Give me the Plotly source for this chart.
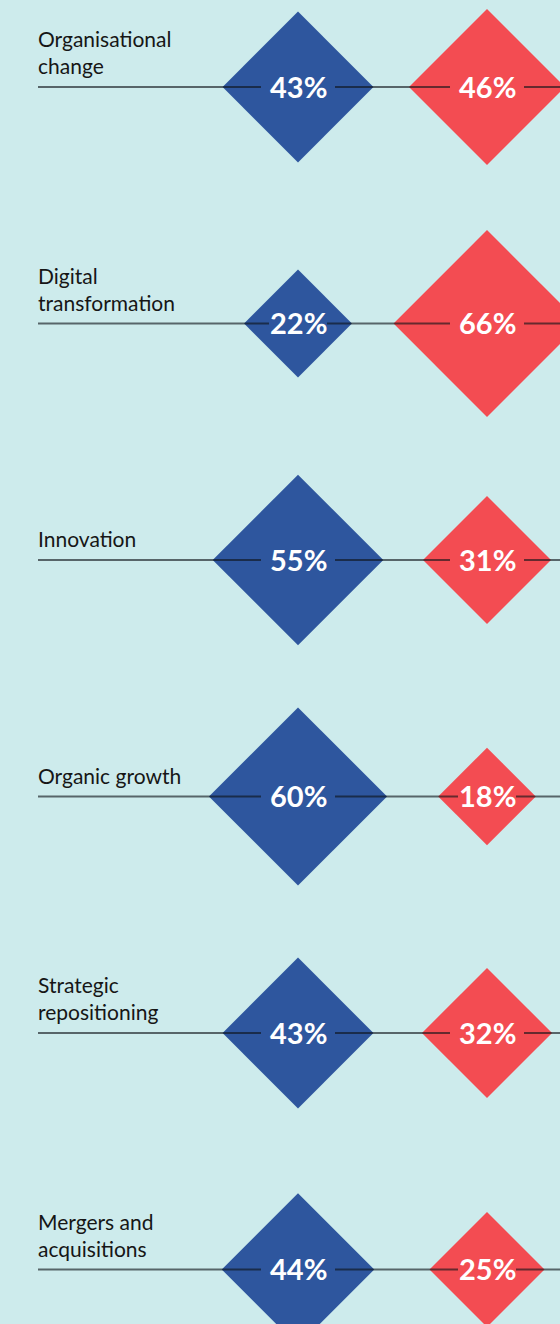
import plotly.graph_objects as go
import math

categories = ["Organisational<br>change", "Digital<br>transformation", "Innovation",
              "Organic growth", "Strategic<br>repositioning", "Mergers and<br>acquisitions"]
blue_values = [43, 22, 55, 60, 43, 44]
red_values = [46, 66, 31, 18, 32, 25]

BG = "#cdebec"
BLUE = "#2e569e"
RED = "#f34c52"
LINE = "rgba(15,20,25,0.62)"

W, H = 560, 1324
ROW0, ROWSTEP = 87, 236.5
BLUE_X, RED_X, LINE_X0 = 298, 487, 38
K = 11.5  # half-diagonal px per sqrt(percent)

n = len(categories)
ys = list(range(n))
y_top = -ROW0 / ROWSTEP
y_bot = (H - ROW0) / ROWSTEP


def msize(v):
    return K * math.sqrt(v) / 0.65


def gap(v):
    return 37 if v > 28 else 29


fig = go.Figure()
fig.add_trace(go.Scatter(x=[BLUE_X] * n, y=ys, mode="markers",
                         marker=dict(symbol="diamond", size=[msize(v) for v in blue_values],
                                     color=BLUE, opacity=1, line=dict(width=0)),
                         hoverinfo="skip", showlegend=False))
fig.add_trace(go.Scatter(x=[RED_X] * n, y=ys, mode="markers",
                         marker=dict(symbol="diamond", size=[msize(v) for v in red_values],
                                     color=RED, opacity=1, line=dict(width=0)),
                         hoverinfo="skip", showlegend=False))

lx, ly = [], []
for i in range(n):
    gb, gr = gap(blue_values[i]), gap(red_values[i])
    segs = [(LINE_X0, BLUE_X - gb), (BLUE_X + gb, RED_X - gr), (RED_X + gr, W + 5)]
    for a, b in segs:
        lx += [a, b, None]
        ly += [i, i, None]
fig.add_trace(go.Scatter(x=lx, y=ly, mode="lines", line=dict(color=LINE, width=2),
                         hoverinfo="skip", showlegend=False))

pct_font = dict(family="Lato", size=29, color="white", weight="bold")
for i in range(n):
    for xc, v in ((BLUE_X, blue_values[i]), (RED_X, red_values[i])):
        fig.add_annotation(x=xc, y=i, xref="x", yref="y", text=f"{v}%", showarrow=False,
                           xanchor="center", yanchor="middle", yshift=1, font=pct_font)

for i, c in enumerate(categories):
    fig.add_annotation(x=LINE_X0, y=i, xref="x", yref="y", text=c, showarrow=False,
                       xanchor="left", yanchor="bottom", align="left", yshift=7, xshift=-2,
                       font=dict(family="Lato", size=21, color="#161616"))

fig.update_layout(
    width=W, height=H, margin=dict(l=0, r=0, t=0, b=0),
    paper_bgcolor=BG, plot_bgcolor=BG,
    xaxis=dict(range=[0, W], visible=False, fixedrange=True),
    yaxis=dict(range=[y_bot, y_top], visible=False, fixedrange=True),
)
fig.write_html("out.html")
